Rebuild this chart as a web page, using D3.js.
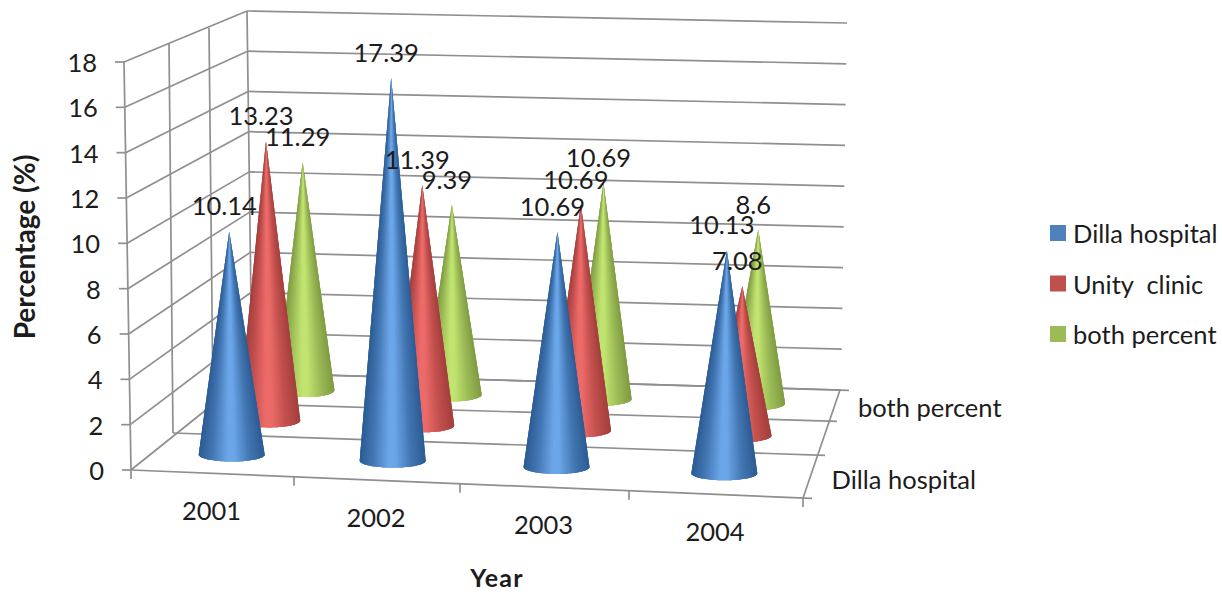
<!DOCTYPE html>
<html>
<head>
<meta charset="utf-8">
<script src="https://cdn.jsdelivr.net/npm/d3@7"></script>
<style>
  html, body { margin: 0; padding: 0; background: #fff; }
  svg { display: block; }
  text { font-family: Lato, "Open Sans", sans-serif; fill: #1c1c1c; }
</style>
</head>
<body>
<svg id="chart" width="1222" height="592"></svg>
<script>
// Chart content
const years = ["2001", "2002", "2003", "2004"];
const seriesNames = ["Dilla hospital", "Unity  clinic", "both percent"];
const dillaHospital = [10.14, 17.39, 10.69, 10.13];
const unityClinic = [13.23, 11.39, 10.69, 7.08];
const bothPercent = [11.29, 9.39, 10.69, 8.6];
const valueTicks = [0, 2, 4, 6, 8, 10, 12, 14, 16, 18];
const depthLabels = ["Dilla hospital", "both percent"];

// Series palette: legend colour, then the cone's dark edge, mid tone and highlight
const palette = [
  { key: "#4f81bd", edge: "#2c5c94", mid: "#4377b3", light: "#6ba6e8" },
  { key: "#c0504d", edge: "#a33f3c", mid: "#c2504e", light: "#ec6b69" },
  { key: "#9bbb59", edge: "#7f9c41", mid: "#9cbb58", light: "#c1e470" }
];
const gridColor = "#8f8f8f";

const svg = d3.select("#chart");

// Projection of the 3-D box: u runs along the years, v runs into the depth, h is the value
const depthStops = [0, 1 / 3, 2 / 3, 1];
const floorLeftX = d3.scaleLinear(depthStops, [131, 173, 213, 252]);
const floorRightX = d3.scaleLinear(depthStops, [803, 816, 828, 840]);
const floorLeftY = d3.scaleLinear(depthStops, [470, 433, 403, 373]);
const floorRightY = d3.scaleLinear(depthStops, [498, 455, 421, 390]);
const topLeftX = d3.scaleLinear(depthStops, [124, 169, 209, 247]);
const topLeftY = d3.scaleLinear(depthStops, [62, 44, 28, 11]);
const categoryU = d3.scaleLinear([0, 1, 2, 3, 4], [0, 0.2426, 0.4896, 0.7411, 1]);
const seriesV = d3.scaleLinear([0, 3], [0, 1]);
const heightPerUnit = d3.scaleLinear([1 / 6, 5 / 6], [22, 20.2]);

const floorPoint = (u, v) => [
  d3.interpolateNumber(floorLeftX(v), floorRightX(v))(u),
  d3.interpolateNumber(floorLeftY(v), floorRightY(v))(u)
];
// Value position on the left wall at a given depth
const wallX = (h, v) => d3.scaleLinear([0, 18], [floorLeftX(v), topLeftX(v)])(h);
const wallY = (h, v) => d3.scaleLinear([0, 18], [floorLeftY(v), topLeftY(v)])(h);
// Value position along the far edge of the back wall
const backRightX = d3.scaleLinear([0, 18], [841, 847]);
const backRightY = d3.scaleLinear([0, 18], [390, 23]);

const grid = svg.append("g")
  .attr("fill", "none")
  .attr("stroke", gridColor)
  .attr("stroke-width", 1.7);
const segment = (a, b) => grid.append("line")
  .attr("x1", a[0]).attr("y1", a[1]).attr("x2", b[0]).attr("y2", b[1]);

// Back wall and left wall rules, one per value tick
valueTicks.forEach(t => {
  segment([wallX(t, 1), wallY(t, 1)], [backRightX(t), backRightY(t)]);
  segment([wallX(t, 0), wallY(t, 0)], [wallX(t, 1), wallY(t, 1)]);
  segment([wallX(t, 0) - 9, wallY(t, 0)], [wallX(t, 0), wallY(t, 0)]);
});
// Wall uprights at each depth division
depthStops.forEach(v => segment([wallX(0, v), wallY(0, v)], [wallX(18, v), wallY(18, v)]));
// Floor rules running across the years, with their outer ticks
depthStops.forEach(v => {
  const a = floorPoint(0, v), b = floorPoint(1, v);
  segment(a, [b[0] + 9, b[1] + 0.4]);
});
// Floor side edge and the year ticks along the front edge
segment(floorPoint(1, 0), floorPoint(1, 1));
d3.range(0, 5).forEach(i => {
  const p = floorPoint(categoryU(i), 0);
  segment(p, [p[0], p[1] + 9]);
});

// Cones are painted as overlapping fans, right to left, so the shading
// converges at the tip without seams between neighbouring wedges
const wedgeCount = 48;
const wedgeOverlap = 3;
const baseRadius = d3.scaleLinear([1 / 6, 5 / 6], [33, 29]);
const baseTilt = 7;
const shade = c => d3.scaleLinear([-1, -0.55, -0.08, 0.12, 0.6, 1],
  [c.edge, c.mid, c.light, c.light, c.mid, c.edge]);
const seriesValues = [dillaHospital, unityClinic, bothPercent];

const tips = [];
const cones = svg.append("g");
// Back row first
[2, 1, 0].forEach(s => {
  const v = seriesV(s + 0.5);
  const color = shade(palette[s]);
  const rowGroup = cones.append("g").attr("class", "series-" + s);
  seriesValues[s].forEach((value, i) => {
    const u = categoryU(i + 0.5);
    const [cx, cy] = floorPoint(u, v);
    const rx = baseRadius(v);
    const tip = [cx + (u - 0.5) * 0.66 * value, cy - value * heightPerUnit(v)];
    tips.push({ value, tip });
    const cone = rowGroup.append("g");
    const rim = k => {
      const t = Math.PI * k / wedgeCount;
      return [cx + rx * Math.cos(t), cy + baseTilt * Math.sin(t)];
    };
    d3.range(wedgeCount).forEach(k => {
      const end = Math.min(k + wedgeOverlap, wedgeCount);
      const fan = [tip].concat(d3.range(k, end + 1).map(rim));
      const mid = Math.PI * (k + 0.5) / wedgeCount;
      cone.append("path")
        .attr("d", d3.line()(fan) + "Z")
        .attr("fill", color(-Math.cos(mid)));
    });
  });
});

// Value labels sit above each tip and are painted over all the cones
svg.append("g").selectAll("text").data(tips).join("text")
  .attr("x", d => d.tip[0] - 5)
  .attr("y", d => d.tip[1] - 26)
  .attr("text-anchor", "middle")
  .attr("dominant-baseline", "central")
  .attr("font-size", 25.5)
  .text(d => d.value);

// Value axis labels
svg.append("g").selectAll("text").data(valueTicks).join("text")
  .attr("x", t => wallX(t, 0) - 27)
  .attr("y", t => wallY(t, 0))
  .attr("text-anchor", "end")
  .attr("dominant-baseline", "central")
  .attr("font-size", 25.5)
  .text(t => t);

// Year labels follow the slope of the front edge
svg.append("g").selectAll("text").data(years).join("text")
  .attr("x", (d, i) => floorPoint(categoryU(i + 0.5), 0)[0] - 1)
  .attr("y", (d, i) => floorPoint(categoryU(i + 0.5), 0)[1] + 37)
  .attr("text-anchor", "middle")
  .attr("dominant-baseline", "central")
  .attr("font-size", 25.5)
  .text(d => d);

// Depth axis labels beside the floor edge
svg.append("g").selectAll("text").data(depthLabels).join("text")
  .attr("x", (d, i) => floorPoint(1, seriesV(i === 0 ? 0.5 : 2.5))[0] + (i === 0 ? 22 : 24))
  .attr("y", (d, i) => floorPoint(1, seriesV(i === 0 ? 0.5 : 2.5))[1] + (i === 0 ? 2 : 1))
  .attr("dominant-baseline", "central")
  .attr("font-size", 25.5)
  .text(d => d);

// Axis titles
svg.append("text")
  .attr("transform", "translate(24,247) rotate(-90)")
  .attr("text-anchor", "middle")
  .attr("dominant-baseline", "central")
  .attr("font-size", 28)
  .attr("font-weight", 700)
  .attr("fill", "#000")
  .text("Percentage (%)");
svg.append("text")
  .attr("x", 497).attr("y", 576.5)
  .attr("text-anchor", "middle")
  .attr("dominant-baseline", "central")
  .attr("font-size", 25)
  .attr("letter-spacing", 1.2)
  .attr("font-weight", 700)
  .attr("fill", "#000")
  .text("Year");

// Legend
const legendY = d3.scalePoint(seriesNames, [233, 334]);
const legend = svg.append("g").selectAll("g").data(seriesNames).join("g")
  .attr("transform", d => `translate(1050,${legendY(d)})`);
legend.append("rect")
  .attr("x", 0).attr("y", -8).attr("width", 16).attr("height", 16)
  .attr("fill", (d, i) => palette[i].key);
legend.append("text")
  .attr("x", 23).attr("y", 0)
  .attr("dominant-baseline", "central")
  .attr("font-size", 25.5)
  .attr("xml:space", "preserve")
  .style("white-space", "pre")
  .text(d => d);
</script>
</body>
</html>
